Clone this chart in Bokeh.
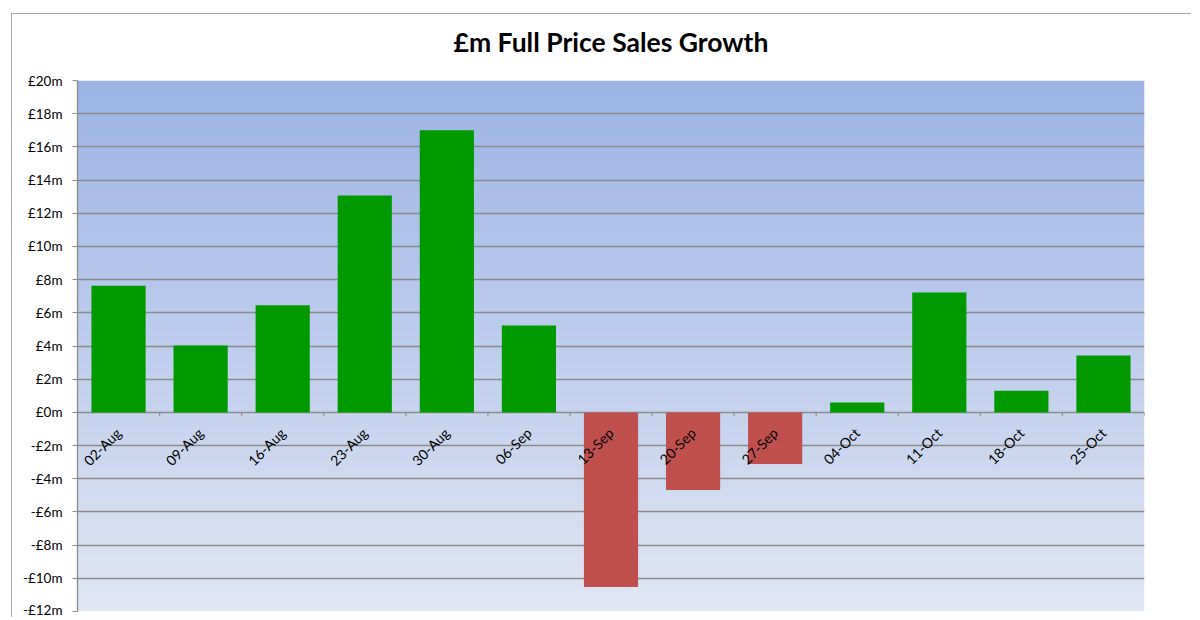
import numpy as np
from bokeh.plotting import figure
from bokeh.models import Range1d, FixedTicker, CustomJSTickFormatter, Title
from bokeh.core.properties import value
from bokeh.embed import file_html
from bokeh.resources import INLINE

# ---- data ----
weeks = ["02-Aug", "09-Aug", "16-Aug", "23-Aug", "30-Aug", "06-Sep", "13-Sep",
         "20-Sep", "27-Sep", "04-Oct", "11-Oct", "18-Oct", "25-Oct"]
growth_m = [7.63, 4.03, 6.45, 13.07, 17.0, 5.24, -10.52, -4.68, -3.11, 0.6, 7.23, 1.31, 3.43]
y_ticks = [-12, -10, -8, -6, -4, -2, 0, 2, 4, 6, 8, 10, 12, 14, 16, 18, 20]
title_text = "£m Full Price Sales Growth"

# ---- styles ----
GREEN = "#009900"
RED = "#C0504D"
GRID = "#8C8C8C"
FONT = "Lato"

n = len(weeks)
centers = np.arange(n) + 0.5
colors = [GREEN if v >= 0 else RED for v in growth_m]
ymin, ymax = min(y_ticks), max(y_ticks)

p = figure(width=1180, height=604,
           x_range=Range1d(0, n), y_range=Range1d(ymin, ymax),
           output_backend="svg", toolbar_location=None, title=None,
           min_border_left=65, min_border_right=48,
           min_border_top=66, min_border_bottom=7,
           margin=(13, 0, 0, 11))
p.styles = {"border-top": "1px solid #A6A6A6", "border-left": "1px solid #A6A6A6"}
p.outline_line_color = None
p.background_fill_color = "white"
p.border_fill_color = "white"

# gradient plot-area background
top_rgb = (155, 180, 228)
bot_rgb = (224, 230, 244)
N = 200
img = np.empty((N, 1), dtype=np.uint32)
view = img.view(dtype=np.uint8).reshape((N, 1, 4))
t = np.linspace(0, 1, N)
for i in range(3):
    view[:, 0, i] = np.round(bot_rgb[i] + (top_rgb[i] - bot_rgb[i]) * t).astype(np.uint8)
view[:, 0, 3] = 255
p.image_rgba(image=[img], x=0, y=ymin, dw=n, dh=ymax - ymin, level="image")

# title: a thin spacer panel next to the plot area, then the real title above it
p.add_layout(Title(text=" ", text_font_size="1px", standoff=20), "above")
p.add_layout(Title(text=title_text, text_font=FONT, text_font_style="bold",
                   text_font_size="26.5px", align="center", text_color="black",
                   standoff=0), "above")

# grid
p.xgrid.visible = False
p.ygrid.ticker = FixedTicker(ticks=y_ticks)
p.ygrid.grid_line_color = GRID
p.ygrid.grid_line_width = 1.3

# axes
p.xaxis.visible = False
ya = p.yaxis[0]
ya.ticker = FixedTicker(ticks=y_ticks)
ya.formatter = CustomJSTickFormatter(code="return (tick < 0 ? '-\u00a3' : '\u00a3') + Math.abs(tick) + 'm';")
ya.axis_line_color = GRID
ya.axis_line_width = 1.3
ya.major_tick_line_color = GRID
ya.major_tick_out = 5
ya.major_tick_in = 0
ya.minor_tick_line_color = None
ya.major_label_standoff = 10
ya.major_label_text_font = FONT
ya.major_label_text_font_size = "13.5px"
ya.major_label_text_color = "black"

# bars
p.vbar(x=centers, width=0.66, top=growth_m, bottom=0,
       fill_color=colors, line_color=None)

# category tick marks on the zero axis
bounds = np.arange(n + 1)
p.segment(x0=bounds, x1=bounds, y0=[0] * (n + 1), y1=[-0.2] * (n + 1),
          line_color=GRID, line_width=1.3)

# category labels along the zero line
p.text(x=centers, y=[0] * n, text=weeks, angle=np.pi / 4,
       text_align="right", text_baseline="middle",
       x_offset=0, y_offset=18,
       text_font=value(FONT), text_font_size="14px", text_color="black")

open("out.html", "w").write(file_html(p, INLINE))
